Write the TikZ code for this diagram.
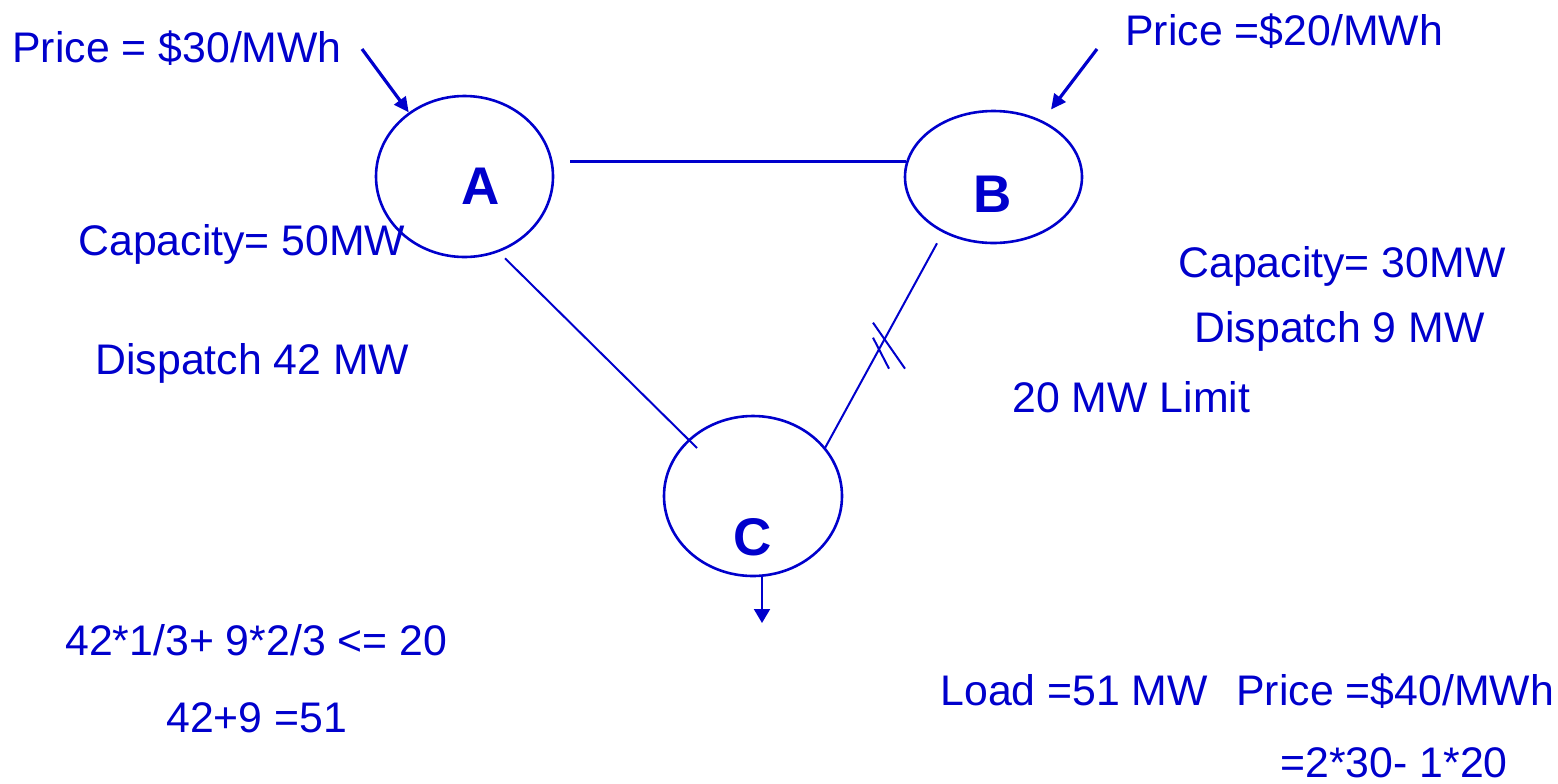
\documentclass[tikz,border=0pt]{standalone}
\usepackage{fontspec}
\setmainfont{Liberation Sans}
\usetikzlibrary{arrows.meta,calc,shapes.geometric}
\definecolor{netblue}{RGB}{0,0,204}

\begin{document}
\begin{tikzpicture}[
  x=0.5pt, y=-0.5pt,
  font=\fontsize{21.4}{25}\selectfont, text=netblue,
  bus/.style={draw=netblue, ellipse, line width=1.3pt, inner sep=0pt},
  buslab/.style={font=\fontsize{26.5}{30}\selectfont\bfseries, inner sep=0pt},
  txt/.style={anchor=base west, inner sep=0pt},
  link/.style={draw=netblue, line width=1pt},
  flow/.style={draw=netblue, line width=1.6pt, -{Triangle[length=7.5pt,width=7pt]}},
]
\useasboundingbox (0,0) rectangle (1558,783);

% buses
\node[bus, minimum width=88.5pt, minimum height=80.5pt] (A) at (464.5,176.5) {};
\node[bus, minimum width=88.5pt, minimum height=66pt] (B) at (993.5,177) {};
\node[bus, minimum width=89pt, minimum height=80pt] (C) at (753,496) {};
\node[buslab] (Alab) at (481,186) {A};
\node[buslab] (Blab) at (993,194) {B};
\node[buslab] (Clab) at (753,537.5) {C};

% lines
\draw[link, line width=1.5pt] ([shift={(16,-15.5)}]A.east) -- ([shift={(2,-16)}]B.west);
\draw[link] ([shift={(40.5,0)}]A.south) -- ([shift={(-56,-48)}]C.center);
\coordinate (bc1) at ([shift={(-56.5,-1)}]B.south);
\coordinate (bc2) at ([shift={(72,-48)}]C.center);
\draw[link] (bc1) -- (bc2);
\coordinate (cut) at ($(bc1)!0.5!(bc2)$);
\draw[link] ($(cut)+(-8,-23)$) -- ++(32,46);
\draw[link] ($(cut)+(-8,-8)$) -- ++(16,31);

% prices and load
\coordinate (pa) at (362,49);
\coordinate (pb) at (1097,49);
\coordinate (ld) at (762,623);
\draw[flow] (pa) -- (A.131);
\draw[flow, shorten >=7pt] (pb) -- (B.49);
\draw[flow, line width=1pt, -{Triangle[length=7pt,width=8pt]}] ([xshift=4.5pt]C.south) -- (ld);

% texts
\node[txt] (p30) at (12,62) {Price = \$30/MWh};
\node[txt] (p20) at (1125,45) {Price =\$20/MWh};
\node[txt] (capa) at (78,255) {Capacity= 50MW};
\node[txt] (dispa) at (95,374) {Dispatch 42 MW};
\node[txt] (capb) at (1178,277) {Capacity= 30MW};
\node[txt] (dispb) at (1194,342) {Dispatch 9 MW};
\node[txt] (limit) at (1012,412) {20 MW Limit};
\node[txt] (eq1) at (65,655) {42*1/3+ 9*2/3 <= 20};
\node[txt] (eq2) at (166,732) {42+9 =51};
\node[txt] (load) at (940,705) {Load =51 MW};
\node[txt] (p40) at (1236,705) {Price =\$40/MWh};
\node[txt] (p40c) at (1280,777) {=2*30- 1*20};
\end{tikzpicture}
\end{document}
